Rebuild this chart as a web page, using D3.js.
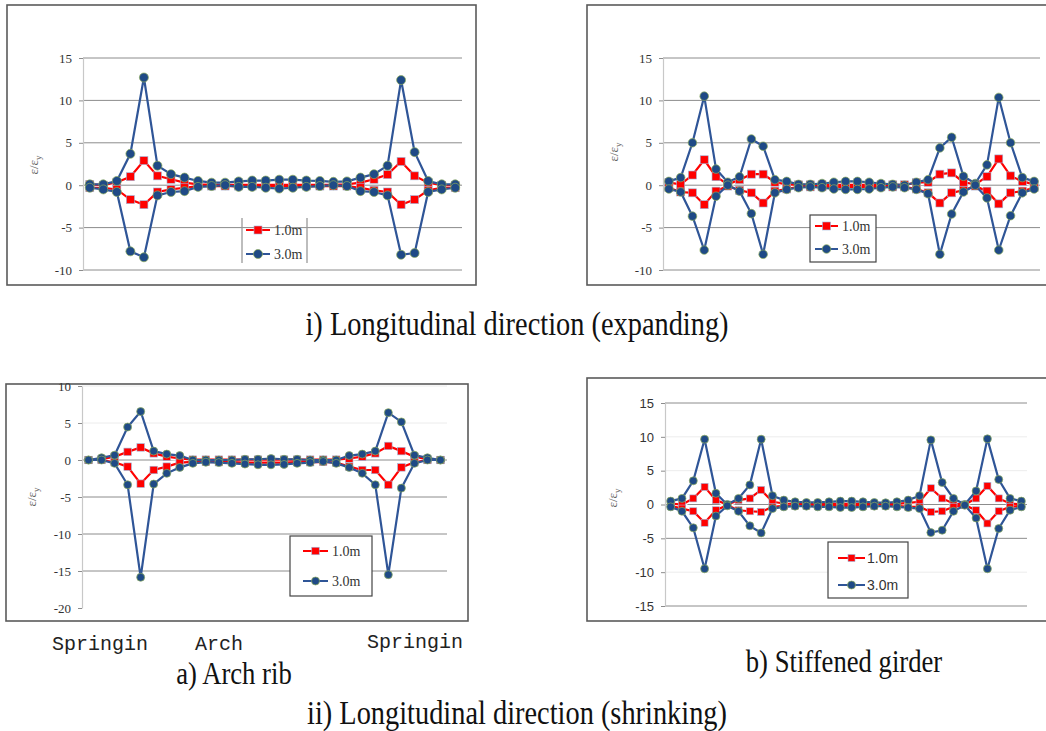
<!DOCTYPE html>
<html lang="en">
<head>
<meta charset="UTF-8">
<script src="https://d3js.org/d3.v7.min.js"></script>
<title>Strain distribution</title>
<style>
  body { margin: 0; background: #fff; }
  svg { display: block; }
</style>
</head>
<body>
<div id="chart"></div>
<script>
// y tick labels for each panel
const ticksExpand = [15, 10, 5, 0, -5, -10];
const ticksRibShrink = [10, 5, 0, -5, -10, -15, -20];
const ticksGirderShrink = [15, 10, 5, 0, -5, -10, -15];

const seriesNames = ["1.0m", "3.0m"];

// i) expanding - arch rib (28 sections)
const expRibMax10 = [0.1, 0, 0.35, 1.0, 2.9, 1.1, 0.7, 0.3, 0.1, 0.05, 0.05, 0.05, 0.05, 0.05, 0.05, 0.05, 0.05, 0.05, 0.05, 0.1, 0.3, 0.7, 1.25, 2.8, 1.1, 0.3, 0, 0];
const expRibMin10 = [-0.3, -0.3, -0.5, -1.7, -2.3, -0.8, -0.5, -0.3, -0.1, -0.1, -0.1, -0.1, -0.1, -0.1, -0.1, -0.1, -0.1, -0.1, -0.1, -0.1, -0.3, -0.6, -0.8, -2.3, -1.7, -0.6, -0.3, -0.3];
const expRibMax30 = [0.1, 0.1, 0.5, 3.7, 12.7, 2.3, 1.3, 0.9, 0.5, 0.3, 0.3, 0.45, 0.55, 0.55, 0.65, 0.65, 0.55, 0.5, 0.4, 0.45, 0.9, 1.3, 2.3, 12.4, 3.9, 0.5, 0.1, 0.1];
const expRibMin30 = [-0.3, -0.5, -0.8, -7.8, -8.5, -1.2, -0.8, -0.7, -0.2, -0.1, 0, -0.2, -0.2, -0.3, -0.4, -0.3, -0.2, -0.1, 0, -0.1, -0.7, -0.8, -1.2, -8.2, -8.0, -0.8, -0.5, -0.3];

// i) expanding - stiffened girder (32 sections)
const expGirMax10 = [0.3, 0.1, 1.2, 3.0, 1.0, 0.1, 0.65, 1.3, 1.3, 0.35, 0.1, 0.05, 0.05, 0.05, 0.05, 0.05, 0.05, 0.05, 0.05, 0.05, 0.05, 0.3, 0.35, 1.3, 1.45, 0.35, 0.1, 1.0, 3.1, 1.1, 0.45, 0.1];
const expGirMin10 = [-0.3, -0.8, -0.9, -2.3, -0.7, -0.1, -0.6, -0.9, -2.1, -0.7, -0.45, -0.2, -0.2, -0.2, -0.2, -0.2, -0.2, -0.2, -0.2, -0.2, -0.2, -0.45, -0.9, -2.1, -0.9, -0.6, -0.1, -0.7, -2.2, -0.9, -0.7, -0.3];
const expGirMax30 = [0.45, 0.9, 5.0, 10.5, 1.9, 0.35, 1.0, 5.45, 4.6, 0.65, 0.45, 0.1, 0.1, 0.2, 0.35, 0.45, 0.45, 0.35, 0.2, 0.1, 0.0, 0.35, 0.65, 4.4, 5.65, 1.05, 0.2, 2.4, 10.35, 5.0, 0.9, 0.45];
const expGirMin30 = [-0.45, -0.8, -3.65, -7.65, -1.3, 0, -0.7, -3.35, -8.15, -0.9, -0.5, -0.3, -0.2, -0.3, -0.45, -0.5, -0.5, -0.45, -0.3, -0.2, -0.3, -0.5, -1.0, -8.15, -3.4, -0.8, 0, -1.5, -7.65, -3.6, -0.9, -0.45];

// ii) shrinking - arch rib (28 sections)
const shrRibMax10 = [0, 0.1, 0.45, 1.1, 1.7, 0.9, 0.45, 0.2, 0.05, 0.05, 0.05, 0.05, 0.05, 0.05, 0.05, 0.05, 0.05, 0.05, 0.05, 0.05, 0.2, 0.45, 0.9, 1.9, 1.2, 0.45, 0.1, 0];
const shrRibMin10 = [0, 0, -0.3, -0.9, -3.2, -1.35, -0.9, -0.35, -0.25, -0.25, -0.3, -0.3, -0.35, -0.35, -0.35, -0.35, -0.3, -0.3, -0.25, -0.35, -0.9, -1.35, -1.35, -3.35, -1.0, -0.3, 0, 0];
const shrRibMax30 = [0, 0.3, 0.65, 4.45, 6.55, 1.2, 0.8, 0.6, 0, 0, 0, 0, 0.1, 0.1, 0.2, 0.1, 0.1, 0, 0, 0, 0.6, 0.8, 1.2, 6.4, 5.15, 0.65, 0.3, 0];
const shrRibMin30 = [0, 0, -0.45, -3.35, -15.85, -3.25, -1.8, -1.0, -0.45, -0.3, -0.35, -0.45, -0.55, -0.65, -0.65, -0.6, -0.45, -0.35, -0.2, -0.45, -1.0, -1.8, -3.35, -15.5, -3.8, -0.45, 0, 0];

// ii) shrinking - stiffened girder (32 sections)
const shrGirMax10 = [0.15, 0, 0.9, 2.6, 0.65, 0, 0.65, 0.9, 2.15, 0.4, 0.15, 0.1, 0.1, 0.1, 0.1, 0.1, 0.1, 0.1, 0.1, 0.1, 0.1, 0.25, 0.4, 2.4, 0.9, 0.15, 0, 0.9, 2.75, 0.9, 0.15, 0];
const shrGirMin10 = [-0.2, -0.6, -1.0, -2.7, -0.85, -0.1, -0.85, -1.0, -1.1, -0.35, -0.2, -0.2, -0.2, -0.2, -0.2, -0.2, -0.2, -0.2, -0.2, -0.2, -0.2, -0.35, -0.35, -1.1, -1.0, -0.35, -0.1, -0.85, -2.8, -1.0, -0.35, -0.2];
const shrGirMax30 = [0.5, 0.9, 3.5, 9.65, 1.65, 0, 0.9, 2.9, 9.65, 1.3, 0.65, 0.4, 0.3, 0.3, 0.4, 0.5, 0.5, 0.4, 0.3, 0.25, 0.4, 0.65, 1.3, 9.55, 3.25, 0.9, 0, 2.0, 9.7, 3.7, 0.9, 0.5];
const shrGirMin30 = [-0.35, -1.0, -3.45, -9.5, -1.7, -0.2, -1.0, -3.15, -4.2, -0.6, -0.35, -0.25, -0.25, -0.35, -0.35, -0.45, -0.45, -0.35, -0.25, -0.25, -0.35, -0.45, -0.6, -4.15, -3.8, -1.0, -0.1, -2.0, -9.5, -3.55, -0.85, -0.35];

const ribLabels = ["Springin", "Arch", "Springin"];

const RED = "#ff0000";
const BLUE_LINE = "#2f5597";
const BLUE_DOT = "#1f4a86";

const svg = d3.select("#chart").append("svg")
  .attr("width", 1046).attr("height", 731);

const panels = [
  {
    frame: [7, 5, 476, 285], plot: { left: 83, right: 462, top: 58, bottom: 270 },
    domain: [-10, 15], ticks: ticksExpand, grid: ticksExpand, faint: [],
    s10: [expRibMax10, expRibMin10], s30: [expRibMax30, expRibMin30],
    r: 4.5, sq: 8, font: "Liberation Serif", ylab: [38, 165],
    legend: { box: [242, 218, 307, 263], fill: "none", sidesOnly: true, rows: [230, 254], lx: [246, 270], tx: 274 }
  },
  {
    frame: [587, 5, 1052, 285], plot: { left: 663, right: 1040, top: 58, bottom: 270 },
    domain: [-10, 15], ticks: ticksExpand, grid: ticksExpand, faint: [],
    s10: [expGirMax10, expGirMin10], s30: [expGirMax30, expGirMin30],
    r: 4.3, sq: 8, font: "Liberation Serif", ylab: [618, 152],
    legend: { box: [810, 215, 876, 262], fill: "#fff", sidesOnly: false, rows: [226, 249], lx: [815, 838], tx: 842 }
  },
  {
    frame: [6, 384, 468, 621], plot: { left: 82, right: 447, top: 386, bottom: 608 },
    domain: [-20, 10], ticks: ticksRibShrink, grid: [0, -5, -10, -15], faint: [10, 5],
    s10: [shrRibMax10, shrRibMin10], s30: [shrRibMax30, shrRibMin30],
    r: 4, sq: 7.5, font: "Liberation Serif", ylab: [36, 497],
    legend: { box: [290, 536, 372, 596], fill: "#fff", sidesOnly: false, rows: [551, 581], lx: [303, 328], tx: 332 }
  },
  {
    frame: [587, 378, 1052, 621], plot: { left: 665, right: 1027, top: 403, bottom: 606 },
    domain: [-15, 15], ticks: ticksGirderShrink, grid: [15, 0, -5, -15], faint: [10, 5, -10],
    s10: [shrGirMax10, shrGirMin10], s30: [shrGirMax30, shrGirMin30],
    r: 4, sq: 7, font: "Liberation Sans", ylab: [617, 498],
    legend: { box: [828, 542, 908, 598], fill: "#fff", sidesOnly: false, rows: [558, 585], lx: [838, 865], tx: 867 }
  }
];

function drawSquare(g, cx, cy, s) {
  g.append("rect")
    .attr("x", cx - s / 2).attr("y", cy - s / 2)
    .attr("width", s).attr("height", s)
    .attr("fill", RED).attr("stroke", "#9db7dc").attr("stroke-width", 0.6);
}

function drawDot(g, cx, cy, r) {
  g.append("circle")
    .attr("cx", cx).attr("cy", cy).attr("r", r)
    .attr("fill", BLUE_DOT).attr("stroke", "#8fae5a").attr("stroke-width", 0.7);
}

function drawPanel(p) {
  const g = svg.append("g");
  const [fx0, fy0, fx1, fy1] = p.frame;
  g.append("rect")
    .attr("x", fx0).attr("y", fy0)
    .attr("width", fx1 - fx0).attr("height", fy1 - fy0)
    .attr("fill", "#fff").attr("stroke", "#5a5a5a").attr("stroke-width", 1.6);

  const n = p.s10[0].length;
  const x = d3.scalePoint().domain(d3.range(n))
    .range([p.plot.left, p.plot.right]).padding(0.5);
  const y = d3.scaleLinear().domain(p.domain).range([p.plot.bottom, p.plot.top]);

  // gridlines
  g.selectAll(".grid").data(p.grid).enter().append("line")
    .attr("x1", p.plot.left).attr("x2", p.plot.right)
    .attr("y1", d => y(d)).attr("y2", d => y(d))
    .attr("stroke", "#8c8c8c").attr("stroke-width", 1);
  g.selectAll(".faint").data(p.faint).enter().append("line")
    .attr("x1", p.plot.left).attr("x2", p.plot.right)
    .attr("y1", d => y(d)).attr("y2", d => y(d))
    .attr("stroke", "#ececec").attr("stroke-width", 1);

  const axis = g.append("g")
    .attr("transform", `translate(${p.plot.left},0)`)
    .call(d3.axisLeft(y).tickValues(p.ticks).tickSize(4).tickSizeOuter(0)
      .tickPadding(7).tickFormat(d => String(d)));
  axis.attr("font-family", null).attr("font-size", null);
  axis.select(".domain").attr("stroke", "#c8c8c8").attr("stroke-width", 1.2);
  axis.selectAll(".tick line").attr("stroke", "#8c8c8c");
  axis.selectAll(".tick text")
    .style("font-family", `"${p.font}", serif`).style("font-size", "13px").attr("fill", "#333");

  // y label
  const yl = g.append("text")
    .attr("transform", `translate(${p.ylab[0]},${p.ylab[1]}) rotate(-90)`)
    .attr("text-anchor", "middle")
    .style("font-family", "'Liberation Serif', serif").style("font-size", "13px").attr("fill", "#666");
  yl.append("tspan").text("ε/ε");
  yl.append("tspan").attr("dy", 3).style("font-size", "9px").text("y");

  const line = d3.line().x((d, i) => x(i)).y(d => y(d));

  // 1.0m series: red line with white casing
  p.s10.forEach(s => {
    g.append("path").attr("d", line(s)).attr("fill", "none")
      .attr("stroke", "#fff").attr("stroke-width", 5).attr("stroke-linejoin", "round");
  });
  p.s10.forEach(s => {
    g.append("path").attr("d", line(s)).attr("fill", "none")
      .attr("stroke", RED).attr("stroke-width", 2.2);
    s.forEach((v, i) => drawSquare(g, x(i), y(v), p.sq));
  });

  // 3.0m series
  p.s30.forEach(s => {
    g.append("path").attr("d", line(s)).attr("fill", "none")
      .attr("stroke", BLUE_LINE).attr("stroke-width", 2.2);
    s.forEach((v, i) => drawDot(g, x(i), y(v), p.r));
  });

  // legend
  const L = p.legend;
  const [lx0, ly0, lx1, ly1] = L.box;
  if (L.sidesOnly) {
    [lx0, lx1].forEach(xx => g.append("line")
      .attr("x1", xx).attr("x2", xx).attr("y1", ly0).attr("y2", ly1)
      .attr("stroke", "#9a9a9a").attr("stroke-width", 1.3));
  } else {
    g.append("rect").attr("x", lx0).attr("y", ly0)
      .attr("width", lx1 - lx0).attr("height", ly1 - ly0)
      .attr("fill", L.fill).attr("stroke", "#444").attr("stroke-width", 1.2);
  }
  seriesNames.forEach((name, k) => {
    const ry = L.rows[k];
    g.append("line").attr("x1", L.lx[0]).attr("x2", L.lx[1])
      .attr("y1", ry).attr("y2", ry)
      .attr("stroke", k === 0 ? RED : BLUE_LINE).attr("stroke-width", 2);
    const mx = (L.lx[0] + L.lx[1]) / 2;
    if (k === 0) drawSquare(g, mx, ry, p.sq);
    else drawDot(g, mx, ry, p.r);
    g.append("text").attr("x", L.tx).attr("y", ry + 4.5)
      .style("font-family", `"${p.font}", serif`).style("font-size", "14px").attr("fill", "#333")
      .text(name);
  });
}

panels.forEach(drawPanel);

// section labels under the arch rib panel
const monoX = [52, 195, 367];
const monoY = [650, 650, 648];
ribLabels.forEach((t, i) => {
  svg.append("text").attr("x", monoX[i]).attr("y", monoY[i])
    .style("font-family", "'Liberation Mono', monospace").style("font-size", "20px").attr("fill", "#222")
    .text(t);
});

// captions
const captions = [
  { text: "i) Longitudinal direction (expanding)", x: 517, y: 335, size: 33 },
  { text: "a) Arch rib", x: 234, y: 684, size: 31 },
  { text: "b) Stiffened girder", x: 844, y: 672, size: 31 },
  { text: "ii) Longitudinal direction (shrinking)", x: 517, y: 724, size: 33 }
];
captions.forEach(c => {
  svg.append("text")
    .attr("transform", `translate(${c.x},${c.y}) scale(0.86,1)`)
    .attr("text-anchor", "middle")
    .style("font-family", "'Liberation Serif', serif").style("font-size", c.size + "px").attr("fill", "#111")
    .text(c.text);
});
</script>
</body>
</html>
